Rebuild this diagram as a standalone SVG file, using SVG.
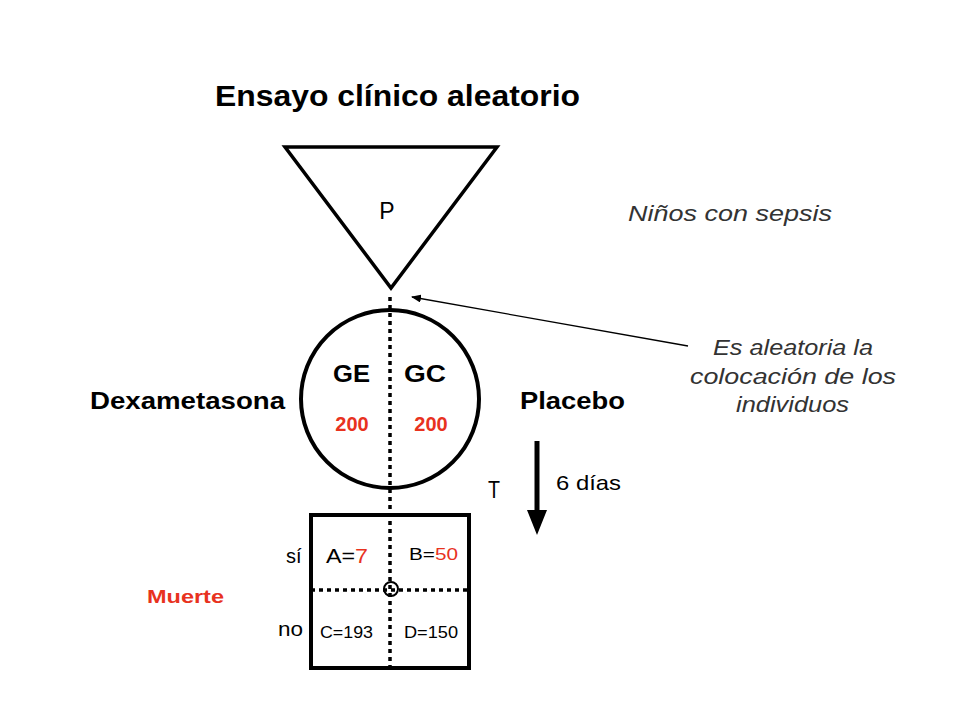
<svg xmlns="http://www.w3.org/2000/svg" width="960" height="720" viewBox="0 0 960 720">
<defs>
<style>
text{font-family:"Liberation Sans",Arial,sans-serif;fill:#000}
.b{font-weight:bold}
.red{fill:#e8321e}
.it{font-style:italic;fill:#333}
.dot{stroke:#000;stroke-width:3.5;stroke-dasharray:4,4;fill:none}
.thick{stroke:#000;stroke-width:4;fill:none}
</style>
<marker id="ah" markerWidth="10" markerHeight="8" refX="9" refY="4" orient="auto" markerUnits="userSpaceOnUse">
<path d="M0,0 L10,4 L0,8 Z" fill="#000"/>
</marker>
</defs>
<rect width="960" height="720" fill="#fff"/>
<text id="title" x="215" y="106" class="b" font-size="29" textLength="365" lengthAdjust="spacingAndGlyphs">Ensayo clínico aleatorio</text>
<g id="population">
<polygon points="285,147 497,147 391,288" fill="none" stroke="#000" stroke-width="3.5"/>
<text x="387" y="219" font-size="23" text-anchor="middle">P</text>
</g>
<text id="pop-label" x="628" y="221" class="it" font-size="22" textLength="204" lengthAdjust="spacingAndGlyphs">Niños con sepsis</text>
<g id="groups">
<circle cx="390" cy="399" r="89" fill="none" stroke="#000" stroke-width="4"/>
<text x="333" y="382" class="b" font-size="24" textLength="37" lengthAdjust="spacingAndGlyphs">GE</text>
<text x="404" y="382" class="b" font-size="24" textLength="42" lengthAdjust="spacingAndGlyphs">GC</text>
<text x="352" y="431" class="b red" font-size="20" text-anchor="middle">200</text>
<text x="431" y="431" class="b red" font-size="20" text-anchor="middle">200</text>
</g>
<text id="dexa" x="90" y="409" class="b" font-size="24" textLength="195" lengthAdjust="spacingAndGlyphs">Dexametasona</text>
<text id="placebo" x="520" y="409" class="b" font-size="24" textLength="105" lengthAdjust="spacingAndGlyphs">Placebo</text>
<g id="note">
<text x="713" y="355" class="it" font-size="22" textLength="160" lengthAdjust="spacingAndGlyphs">Es aleatoria la</text>
<text x="690" y="384" class="it" font-size="22" textLength="206" lengthAdjust="spacingAndGlyphs">colocación de los</text>
<text x="736" y="412" class="it" font-size="22" textLength="113" lengthAdjust="spacingAndGlyphs">individuos</text>
</g>
<g id="time">
<text x="488" y="498" font-size="24" textLength="12" lengthAdjust="spacingAndGlyphs">T</text>
<text x="556" y="490" font-size="21" textLength="65" lengthAdjust="spacingAndGlyphs">6 días</text>
</g>
<g id="table">
<rect x="311" y="515" width="158" height="153" class="thick"/>
<circle cx="391" cy="589" r="7" fill="none" stroke="#000" stroke-width="2"/>
<text x="286" y="563" font-size="20">sí</text>
<text x="278" y="636" font-size="20" textLength="25" lengthAdjust="spacingAndGlyphs">no</text>
<text x="326" y="563" font-size="21" textLength="42" lengthAdjust="spacingAndGlyphs">A=<tspan class="red">7</tspan></text>
<text x="409" y="560" font-size="17" textLength="49" lengthAdjust="spacingAndGlyphs">B=<tspan class="red">50</tspan></text>
<text x="320" y="638" font-size="16" textLength="53" lengthAdjust="spacingAndGlyphs">C=193</text>
<text x="404" y="638" font-size="16" textLength="54" lengthAdjust="spacingAndGlyphs">D=150</text>
</g>
<text id="muerte" x="147" y="603" class="b red" font-size="19" textLength="77" lengthAdjust="spacingAndGlyphs">Muerte</text>
<g id="connectors">
<line x1="390" y1="297" x2="390" y2="668" class="dot"/>
<line x1="311" y1="590" x2="469" y2="590" class="dot"/>
<line x1="688" y1="346" x2="412" y2="297" stroke="#000" stroke-width="1.3" marker-end="url(#ah)"/>
<line x1="537" y1="441" x2="537" y2="512" stroke="#000" stroke-width="5"/>
<polygon points="527,510 547,510 537,535" fill="#000"/>
</g>
</svg>
